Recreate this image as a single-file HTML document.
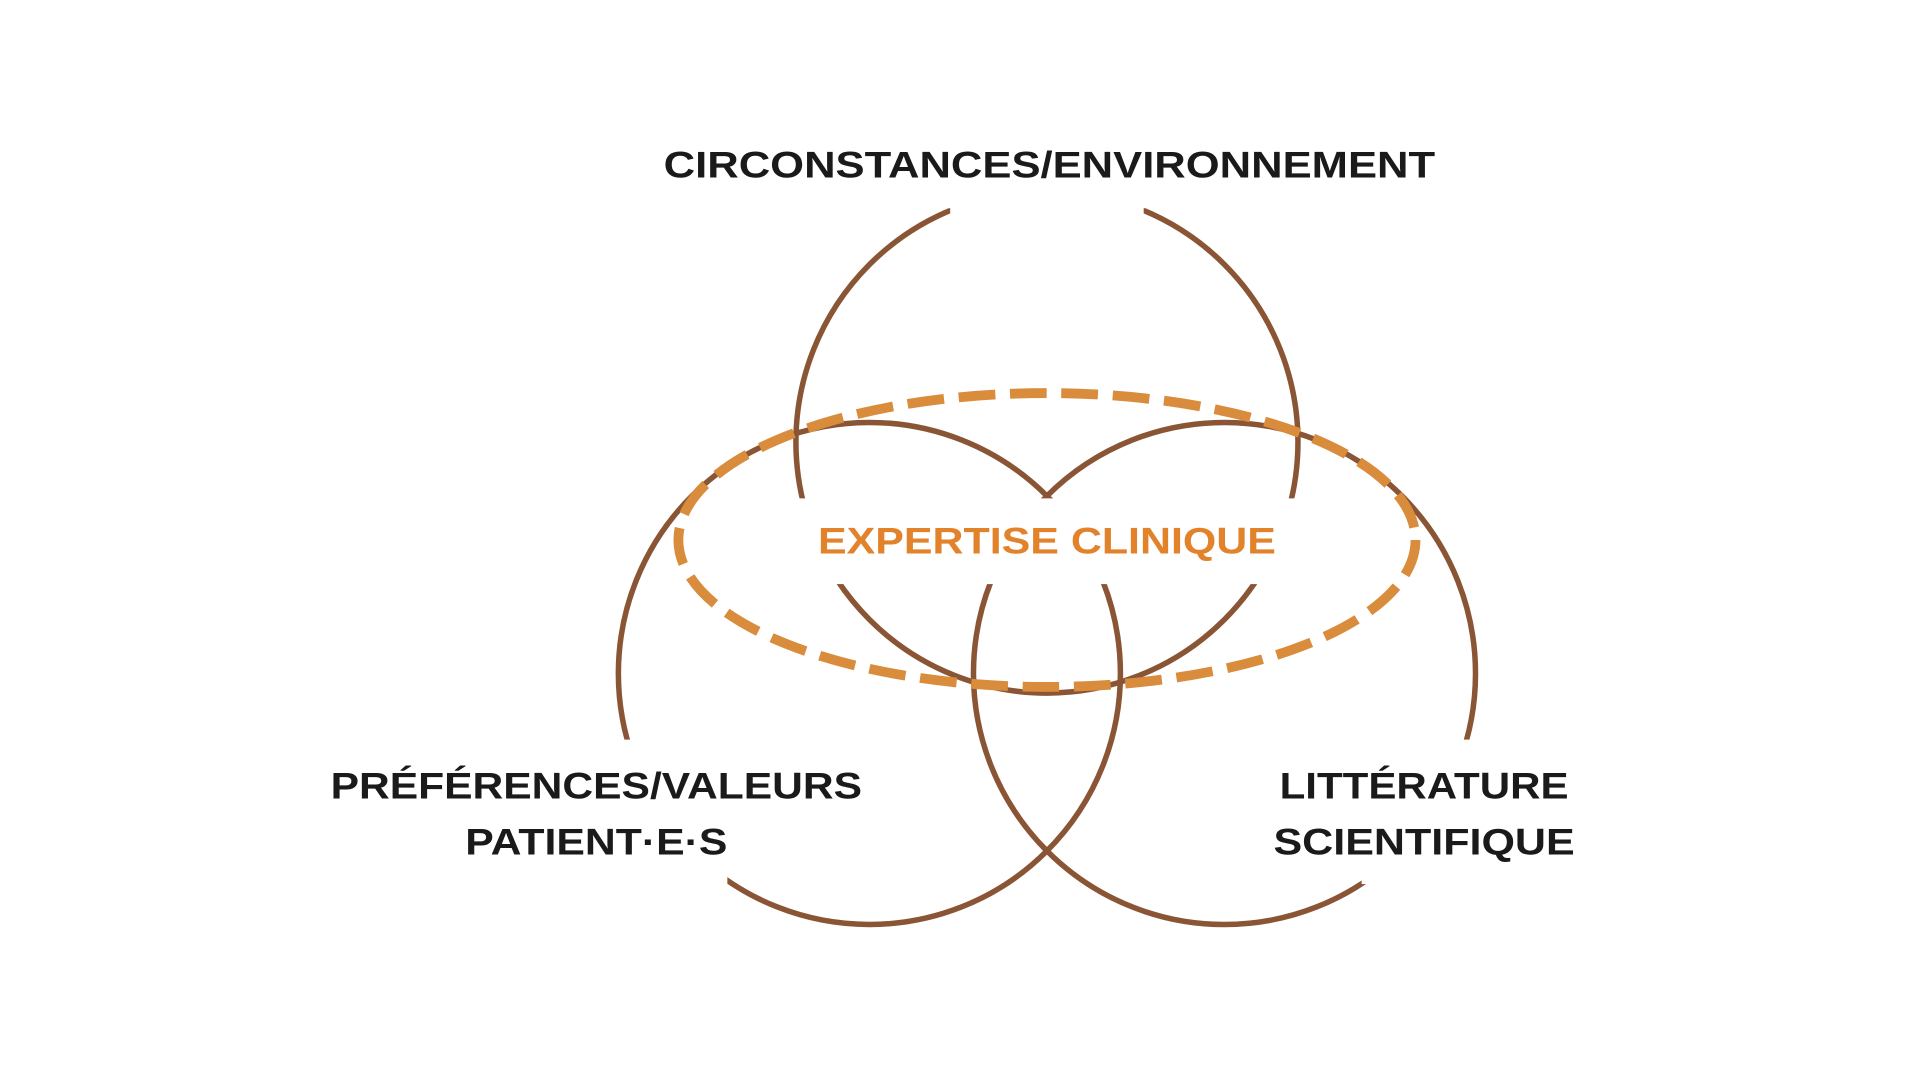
<!DOCTYPE html>
<html><head><meta charset="utf-8"><style>html,body{margin:0;padding:0;background:#fff;overflow:hidden}svg{display:block}</style></head>
<body>
<svg width="1920" height="1080" viewBox="0 0 1568 882" preserveAspectRatio="none" xmlns="http://www.w3.org/2000/svg">
<rect width="1568" height="882" fill="#fff"/>
<g fill="none" stroke="#8a5535" stroke-width="4.5">
<circle cx="855" cy="361" r="205"/>
<circle cx="710" cy="550" r="205"/>
<circle cx="1000" cy="550" r="205"/>
</g>
<g fill="#fff">
<rect x="640" y="150" width="440" height="20"/>
<rect x="776" y="150" width="158" height="30"/>
<rect x="648" y="407" width="414" height="70"/>
<rect x="490" y="604" width="104" height="118"/>
<rect x="1112" y="604" width="104" height="118"/>
</g>
<ellipse cx="855" cy="441" rx="301" ry="120" fill="none" stroke="#d98c3c" stroke-width="8" stroke-dasharray="30 12"/>
<g font-family="Liberation Sans, sans-serif" font-weight="bold" font-size="30" fill="#1a1a1a" text-anchor="middle">
<text x="857" y="145" textLength="630" lengthAdjust="spacingAndGlyphs">CIRCONSTANCES/ENVIRONNEMENT</text>
<text x="487" y="652" textLength="434" lengthAdjust="spacingAndGlyphs">PRÉFÉRENCES/VALEURS</text>
<text x="487" y="698" textLength="214" lengthAdjust="spacingAndGlyphs">PATIENT·E·S</text>
<text x="1163" y="652" textLength="236" lengthAdjust="spacingAndGlyphs">LITTÉRATURE</text>
<text x="1163" y="698" textLength="246" lengthAdjust="spacingAndGlyphs">SCIENTIFIQUE</text>
<text x="855" y="452" fill="#e2832c" textLength="374" lengthAdjust="spacingAndGlyphs">EXPERTISE CLINIQUE</text>
</g>
</svg>
</body></html>
